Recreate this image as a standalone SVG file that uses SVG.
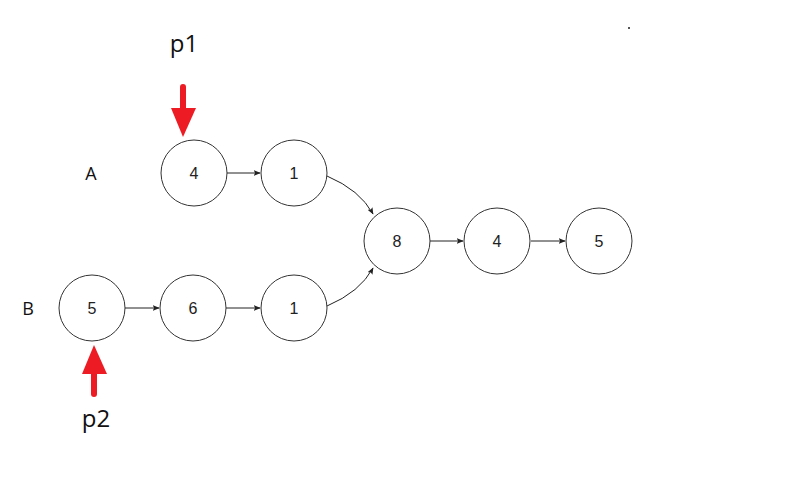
<svg xmlns="http://www.w3.org/2000/svg" width="797" height="478" viewBox="0 0 797 478">
<defs>
<style>
.node circle{fill:#fff;stroke:#333;stroke-width:1}
.node text{font-family:"Liberation Sans",Arial,sans-serif;font-size:16px;fill:#222;text-anchor:middle;dominant-baseline:central}
.lbl{font-family:"Open Sans","Noto Sans",sans-serif;fill:#111}
.edge{fill:none;stroke:#222;stroke-width:1;marker-end:url(#ah)}
.ptr{fill:none;stroke:#ED1C24;stroke-width:6;stroke-linecap:round}
</style>
<marker id="ah" viewBox="0 0 10 10" refX="9" refY="5" markerWidth="7" markerHeight="7" orient="auto" markerUnits="userSpaceOnUse">
<path d="M0,1 L10,5 L0,9 L2,5 Z" fill="#222"/>
</marker>
</defs>
<rect width="797" height="478" fill="#fff"/>
<rect x="628" y="27" width="2" height="2" fill="#555"/>
<text class="lbl" x="184" y="52" font-size="24" text-anchor="middle">p1</text>
<text class="lbl" x="96" y="427" font-size="24" text-anchor="middle">p2</text>
<text class="lbl" x="91" y="180" font-size="18" text-anchor="middle">A</text>
<text class="lbl" x="28" y="315" font-size="18" text-anchor="middle">B</text>
<g id="connectors">
<path class="edge" d="M227,173 L260,173"/>
<path class="edge" d="M327,176 Q360,190 373,214"/>
<path class="edge" d="M125,308 L159,308"/>
<path class="edge" d="M226,308 L260,308"/>
<path class="edge" d="M327,306 Q360,292 373,268"/>
<path class="edge" d="M430,241 L463,241"/>
<path class="edge" d="M531,241 L565,241"/>
</g>
<g id="pointers">
<path class="ptr" d="M183,87 L183,110"/>
<path d="M171,108 L196,108 L183,137 Z" fill="#ED1C24"/>
<path class="ptr" d="M94,394 L94,372"/>
<path d="M82,374 L107,374 L94,345 Z" fill="#ED1C24"/>
</g>
<g id="a4" class="node"><circle cx="194" cy="173" r="33"/><text x="194" y="173">4</text></g>
<g id="a1" class="node"><circle cx="294" cy="173" r="33"/><text x="294" y="173">1</text></g>
<g id="b5" class="node"><circle cx="92" cy="308" r="33"/><text x="92" y="308">5</text></g>
<g id="b6" class="node"><circle cx="193" cy="308" r="33"/><text x="193" y="308">6</text></g>
<g id="b1" class="node"><circle cx="294" cy="308" r="33"/><text x="294" y="308">1</text></g>
<g id="c8" class="node"><circle cx="397" cy="241" r="33"/><text x="397" y="241">8</text></g>
<g id="c4" class="node"><circle cx="497" cy="241" r="33"/><text x="497" y="241">4</text></g>
<g id="c5" class="node"><circle cx="599" cy="241" r="33"/><text x="599" y="241">5</text></g>
</svg>
